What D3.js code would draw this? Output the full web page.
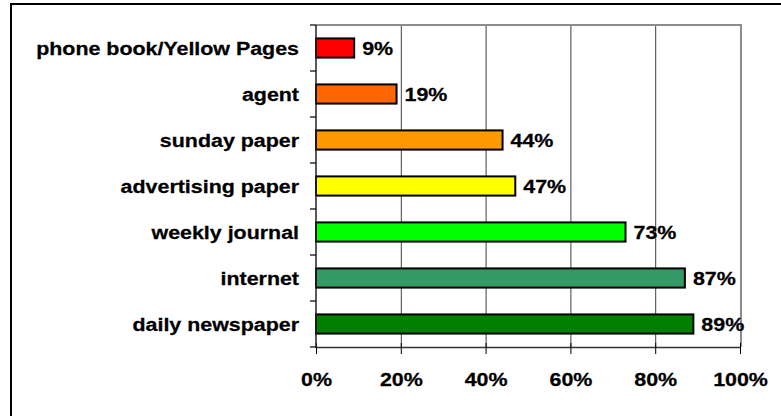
<!DOCTYPE html>
<html>
<head>
<meta charset="utf-8">
<script src="https://cdn.jsdelivr.net/npm/d3@7"></script>
<style>
  html, body { margin: 0; padding: 0; background: #fff; }
  svg { display: block; }
  text { font-family: "Liberation Sans", Arial, sans-serif; font-weight: bold; font-size: 18px; fill: #000; stroke: #000; stroke-width: 0.25px; }
</style>
</head>
<body>
<svg id="chart" width="781" height="416"></svg>
<script>
// Where people look (share of respondents), top to bottom
const categories = [
  "phone book/Yellow Pages",
  "agent",
  "sunday paper",
  "advertising paper",
  "weekly journal",
  "internet",
  "daily newspaper"
];
const values = [9, 19, 44, 47, 73, 87, 89];
const barColors = ["#FF0000", "#FF6600", "#FF9900", "#FFFF00", "#00FF00", "#339966", "#008000"];
const xTicks = [0, 20, 40, 60, 80, 100];
const xTickLabels = ["0%", "20%", "40%", "60%", "80%", "100%"];

const svg = d3.select("#chart");
const W = 781, H = 416;
const plot = { left: 316, right: 740, top: 25, bottom: 347 };
const stretch = 1.19; // wide lettering of the labels

const x = d3.scaleLinear().domain([0, 100]).range([plot.left, plot.right]);
const y = d3.scaleBand().domain(categories).range([plot.top, plot.bottom]).padding(0);
const bar = d3.scaleBand().domain(categories).range([plot.top, plot.bottom])
  .paddingInner(0.583).paddingOuter(0.2915);

// chart area frame (left and top edges)
svg.append("path")
  .attr("d", `M11,${H} L11,4 L${W},4`)
  .attr("fill", "none").attr("stroke", "#000").attr("stroke-width", 2);

// vertical gridlines
svg.append("g").selectAll("line")
  .data(xTicks.slice(1, -1))
  .join("line")
  .attr("x1", d => x(d) + 0.5).attr("x2", d => x(d) + 0.5)
  .attr("y1", plot.top).attr("y2", plot.bottom)
  .attr("stroke", "#404040").attr("stroke-width", 1);

// plot area border (top and right)
svg.append("path")
  .attr("d", `M${plot.left},${plot.top} L${plot.right + 1},${plot.top} L${plot.right + 1},${plot.bottom}`)
  .attr("fill", "none").attr("stroke", "#8c8c8c").attr("stroke-width", 2);

// bars
svg.append("g").selectAll("rect")
  .data(categories)
  .join("rect")
  .attr("x", x(0))
  .attr("y", d => bar(d))
  .attr("width", (d, i) => x(values[i]) - x(0))
  .attr("height", bar.bandwidth())
  .attr("fill", (d, i) => barColors[i])
  .attr("stroke", "#000").attr("stroke-width", 2);

// value axis at the bottom
const xAxis = svg.append("g")
  .attr("transform", `translate(0,${plot.bottom})`)
  .call(d3.axisBottom(x).tickValues(xTicks).tickSize(7).tickSizeOuter(0)
    .tickFormat((d, i) => xTickLabels[i]));
xAxis.attr("font-size", null).attr("font-family", null);
xAxis.select(".domain").attr("stroke", "#333").attr("stroke-width", 1.5);
xAxis.selectAll(".tick line").attr("stroke", "#000").attr("y1", -4);
xAxis.selectAll(".tick text")
  .attr("y", 39.5).attr("dy", null)
  .attr("transform", `scale(${stretch},1)`);

// category axis on the left, ticks between categories
const yEdges = categories.map(c => y(c)).concat([plot.bottom]);
svg.append("line")
  .attr("x1", plot.left).attr("x2", plot.left)
  .attr("y1", plot.top).attr("y2", plot.bottom + 1)
  .attr("stroke", "#222").attr("stroke-width", 1.5);
svg.append("g").selectAll("line")
  .data(yEdges)
  .join("line")
  .attr("x1", plot.left - 6).attr("x2", plot.left)
  .attr("y1", d => d).attr("y2", d => d)
  .attr("stroke", "#000").attr("stroke-width", 1.2);

// category labels
svg.append("g").selectAll("text")
  .data(categories)
  .join("text")
  .attr("text-anchor", "end")
  .attr("transform", d => `translate(${plot.left - 17},${y(d) + y.bandwidth() / 2 + 6.8}) scale(${stretch},1)`)
  .text(d => d);

// value labels
svg.append("g").selectAll("text")
  .data(values)
  .join("text")
  .attr("text-anchor", "start")
  .attr("transform", (d, i) => `translate(${x(d) + 8},${y(categories[i]) + y.bandwidth() / 2 + 6.8}) scale(${stretch},1)`)
  .text(d => d + "%");
</script>
</body>
</html>
